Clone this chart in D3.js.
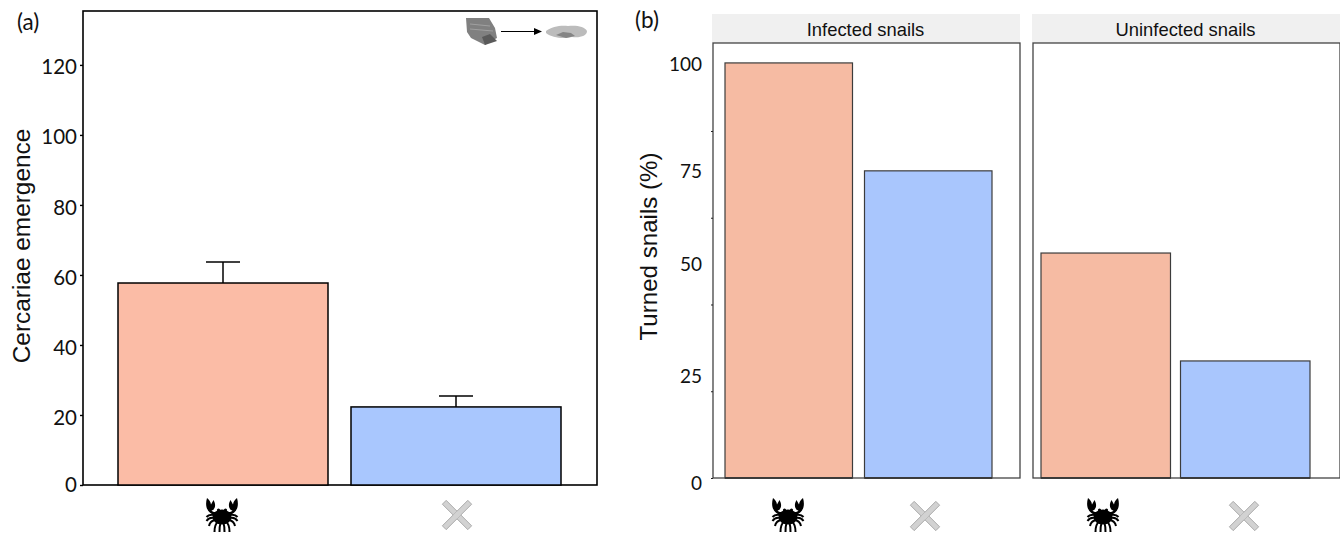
<!DOCTYPE html>
<html>
<head>
<meta charset="utf-8">
<script src="https://cdn.jsdelivr.net/npm/d3@7"></script>
<style>
  html, body { margin: 0; padding: 0; background: #fff; }
  svg { display: block; }
  .num { font-family: Lato, "Open Sans", sans-serif; fill: #111; }
  .lab { font-family: "Liberation Sans", Arial, sans-serif; fill: #111; }
</style>
</head>
<body>
<div id="chart"></div>
<script>
var w = 1340, h = 533;

// panel a
var treatments = ["crab", "none"];
var emergence = [57.7, 22.3];
var emergenceUpper = [63.7, 25.4];
var emergenceTicks = [0, 20, 40, 60, 80, 100, 120];

// panel b
var facets = ["Infected snails", "Uninfected snails"];
var turnedInfected = [100, 74];
var turnedUninfected = [54.2, 28.2];
var turnedLabels = ["0", "25", "50", "75", "100"];
// the labels sit off the tick marks in the original figure
var turnedLabelAt = [-1, 24.6, 51.6, 74, 99.8];
var turnedMinorTicks = [0, 20.9, 41.8, 62.7, 83.6];

var svg = d3.select("#chart").append("svg").attr("width", w).attr("height", h);

var blur = svg.append("defs").append("filter").attr("id", "soft");
blur.append("feGaussianBlur").attr("stdDeviation", 0.6);

function crab(x, y) {
  var g = svg.append("g").attr("transform", "translate(" + x + "," + y + ")");
  g.append("ellipse").attr("cx", 0).attr("cy", 2).attr("rx", 9.5).attr("ry", 7.5).attr("fill", "#000");
  [-1, 1].forEach(function (s) {
    g.append("circle").attr("cx", s * 3.5).attr("cy", -5).attr("r", 1.6).attr("fill", "#000");
    // claw
    g.append("path")
      .attr("d", "M" + s * 7 + ",0 C" + s * 13 + ",-1 " + s * 18 + ",-7 " + s * 15 + ",-17 C" + s * 13 + ",-15 " + s * 11.5 + ",-14 " + s * 11 + ",-10.5 L" + s * 8.5 + ",-15 C" + s * 5.5 + ",-10 " + s * 7 + ",-5 " + s * 10.5 + ",-4.5 C" + s * 9.5 + ",-3.5 " + s * 8.5 + ",-3 " + s * 6.5 + ",-3 Z")
      .attr("fill", "#000");
    // legs
    var legs = [[8, 0, 13, -1, 15.5, 2], [8, 3, 13, 2, 15.5, 6], [7, 5, 12, 6, 13, 11], [4, 7, 7.5, 9, 7.5, 17], [1.5, 8, 2.5, 11, 2.5, 17]];
    legs.forEach(function (l) {
      g.append("path")
        .attr("d", "M" + s * l[0] + "," + l[1] + " Q" + s * l[2] + "," + l[3] + " " + s * l[4] + "," + l[5])
        .attr("fill", "none").attr("stroke", "#000").attr("stroke-width", 2);
    });
  });
}

function cross(x, y) {
  var g = svg.append("g").attr("transform", "translate(" + x + "," + y + ")");
  [45, -45].forEach(function (a) {
    g.append("rect").attr("x", -18).attr("y", -2.7).attr("width", 36).attr("height", 5.4)
      .attr("transform", "rotate(" + a + ")")
      .attr("fill", "#d2d2d2").attr("stroke", "#a8a8a8").attr("stroke-width", 0.9);
  });
  g.append("rect").attr("x", -2.7).attr("y", -2.7).attr("width", 5.4).attr("height", 5.4)
    .attr("transform", "rotate(45)").attr("fill", "#d2d2d2");
}

// (a)
var yA = d3.scaleLinear().domain([0, 135.4]).range([485, 11]);
var xA = d3.scaleBand().domain(treatments).range([118, 561]).paddingInner(23 / 233);
var colors = d3.scaleOrdinal().domain(treatments).range(["#fbbca6", "#a9c7fe"]);

svg.append("rect").attr("x", 83).attr("y", 11).attr("width", 514).attr("height", 474)
  .attr("fill", "none").attr("stroke", "#000").attr("stroke-width", 1.6);

var axisA = svg.append("g").attr("transform", "translate(83,0)")
  .call(d3.axisLeft(yA).tickValues(emergenceTicks).tickSize(3).tickPadding(3));
axisA.select(".domain").remove();
axisA.selectAll("line").attr("stroke", "#000").attr("stroke-width", 1.4);
axisA.selectAll("text").attr("class", "num").attr("font-family", null).style("font-size", "20.5px")
  .attr("y", function (d) { return d == 0 ? 0 : 2.5; });

treatments.forEach(function (t, i) {
  var cx = xA(t) + xA.bandwidth() / 2;
  var errG = svg.append("g").attr("stroke", "#000").attr("stroke-width", 1.5);
  errG.append("line").attr("x1", cx).attr("x2", cx).attr("y1", yA(emergence[i])).attr("y2", yA(emergenceUpper[i]));
  errG.append("line").attr("x1", cx - 17).attr("x2", cx + 17).attr("y1", yA(emergenceUpper[i])).attr("y2", yA(emergenceUpper[i]));
  svg.append("rect")
    .attr("x", xA(t)).attr("y", yA(emergence[i]))
    .attr("width", xA.bandwidth()).attr("height", yA(0) - yA(emergence[i]))
    .attr("fill", colors(t)).attr("stroke", "#000").attr("stroke-width", 1.5);
});

svg.append("text").attr("class", "lab").attr("transform", "translate(30,246) rotate(-90)")
  .attr("text-anchor", "middle").style("font-size", "24.4px").text("Cercariae emergence");
svg.append("text").attr("class", "num").attr("x", 17).attr("y", 30).style("font-size", "22.5px").text("(a)");

// snail to shell pictogram
var pict = svg.append("g").attr("filter", "url(#soft)");
pict.append("path").attr("d", "M466,18 L489,18 L495,28 L497,38 L491,41 L485,45 L471,38 L467,32 Z").attr("fill", "#808080");
pict.append("path").attr("d", "M470,24 L490,26 M470,29 L493,31").attr("stroke", "#a0a0a0").attr("fill", "none");
pict.append("path").attr("d", "M482,37 L485,45 L497,41 L490,34 Z").attr("fill", "#5a5a5a");
pict.append("path").attr("d", "M546,31 C552,26 562,25 568,26 C575,25 585,26 587,31 C587,36 580,38 572,37 C564,39 552,38 546,33 Z").attr("fill", "#bcbcbc");
pict.append("path").attr("d", "M556,35 L563,32 L571,33 L575,36 L566,38 Z").attr("fill", "#858585");
svg.append("line").attr("x1", 501).attr("x2", 534).attr("y1", 31.5).attr("y2", 31.5).attr("stroke", "#000").attr("stroke-width", 1);
svg.append("path").attr("d", "M534,28 L542,31.5 L534,35 Z").attr("fill", "#000");

// (b)
var yB = d3.scaleLinear().domain([0, 104.8]).range([478, 43]);
var panels = [
  { name: facets[0], values: turnedInfected, x0: 713, x1: 1020, bar0: 725, bar1: 992, gap: 12 },
  { name: facets[1], values: turnedUninfected, x0: 1033, x1: 1340, bar0: 1041, bar1: 1310, gap: 10 }
];

panels.forEach(function (p) {
  svg.append("rect").attr("x", p.x0 - 1).attr("y", 14).attr("width", p.x1 - p.x0 + 1).attr("height", 29).attr("fill", "#f0f0f0");
  svg.append("text").attr("class", "lab").attr("x", (p.x0 + p.x1) / 2 - 1).attr("y", 36)
    .attr("text-anchor", "middle").style("font-size", "18.4px").text(p.name);

  var bw = (p.bar1 - p.bar0 - p.gap) / 2;
  var x = d3.scaleBand().domain(treatments).range([p.bar0, p.bar1]).paddingInner(p.gap / (bw + p.gap));
  treatments.forEach(function (t, i) {
    svg.append("rect")
      .attr("x", x(t)).attr("y", yB(p.values[i]))
      .attr("width", x.bandwidth()).attr("height", yB(0) - yB(p.values[i]))
      .attr("fill", i == 0 ? "#f6bba3" : "#a9c6fd").attr("stroke", "#3c3c3c").attr("stroke-width", 1.2);
    svg.append("line").attr("x1", x(t)).attr("x2", x(t) + x.bandwidth())
      .attr("y1", yB(0)).attr("y2", yB(0)).attr("stroke", "#111").attr("stroke-width", 1.6);
  });

  svg.append("rect").attr("x", p.x0).attr("y", 43).attr("width", p.x1 - p.x0).attr("height", 435)
    .attr("fill", "none").attr("stroke", "#444").attr("stroke-width", 1.3);
});

var axisB = svg.append("g").attr("transform", "translate(713,0)")
  .call(d3.axisLeft(yB).tickValues(turnedMinorTicks).tickSize(2).tickFormat(""));
axisB.select(".domain").remove();
axisB.selectAll("line").attr("stroke", "#222").attr("stroke-width", 1);

var labelsB = svg.append("g").attr("transform", "translate(713,0)")
  .call(d3.axisLeft(yB).tickValues(turnedLabelAt).tickSize(0).tickPadding(11)
    .tickFormat(function (d, i) { return turnedLabels[i]; }));
labelsB.select(".domain").remove();
labelsB.selectAll("text").attr("class", "num").attr("font-family", null).style("font-size", "19px").attr("y", 1);

svg.append("text").attr("class", "lab").attr("transform", "translate(657,246.5) rotate(-90)")
  .attr("text-anchor", "middle").style("font-size", "24.1px").text("Turned snails (%)");
svg.append("text").attr("class", "num").attr("x", 635).attr("y", 28).style("font-size", "22.5px").text("(b)");

// treatment icons under the bars
crab(222, 515);
cross(457, 515);
crab(788, 515);
cross(925, 516);
crab(1103, 515);
cross(1244, 516);
</script>
</body>
</html>
